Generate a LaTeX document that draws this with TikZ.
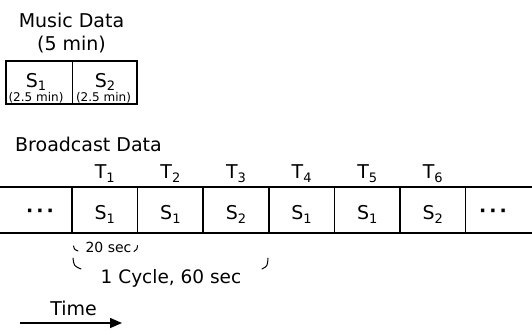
\documentclass[tikz,border=0pt]{standalone}
\usepackage{fontspec}
\setmainfont{DejaVu Sans}
\usetikzlibrary{arrows.meta}
\newcommand{\mysub}[2][4pt]{\raisebox{-#1}{\fontsize{13}{13}\selectfont #2}}
\begin{document}
\begin{tikzpicture}[x=1pt,y=-1pt,
  big/.style={font=\fontsize{19}{22}\selectfont, inner sep=0pt},
  mid/.style={font=\fontsize{18.5}{22}\selectfont, inner sep=0pt},
  small/.style={font=\fontsize{12}{14}\selectfont, inner sep=0pt},
  twsec/.style={font=\fontsize{14}{16}\selectfont, inner sep=0pt},
  rule/.style={line width=1.6pt},
  cellbox/.style={rule, draw, inner sep=0pt, anchor=north west, minimum height=43pt},
  tick/.style={line width=1pt, line cap=round},
]
\useasboundingbox (0,0) rectangle (532,333);

% Music data
\node[big, anchor=base] (title) at (71.5,27) {Music Data};
\node[big, anchor=base] (dur) at (71.5,50) {(5 min)};
\node[cellbox, minimum width=66.5pt] (m1) at (5,60) {};
\node[cellbox, minimum width=64.5pt] (m2) at (71.5,60) {};
\node[big, anchor=base] (ms1) at (36,87) {S\mysub[3pt]{1}};
\node[big, anchor=base] (ms2) at (105,87) {S\mysub[3pt]{2}};
\node[small, anchor=base] (ml1) at (36,101) {(2.5 min)};
\node[small, anchor=base] (ml2) at (103.5,101) {(2.5 min)};

% Broadcast data
\node[big, anchor=base west] (bt) at (15,151) {Broadcast Data};
\coordinate (tl) at (0,187);
\coordinate (tr) at (532,187);
\coordinate (bl) at (0,233);
\coordinate (br) at (532,233);
\draw[rule] (tl) -- (tr);
\draw[rule] (bl) -- (br);
\foreach \k in {0,...,6} {
  \coordinate (vt\k) at ({72+65.6*\k},187);
  \coordinate (vb\k) at ({72+65.6*\k},233);
  \draw[rule] (vt\k) -- (vb\k);
}
\foreach \s [count=\i] in {1,1,2,1,1,2} {
  \node[big, anchor=base] (s\i) at ({72+65.6*(\i-0.5)},219) {S\mysub{\s}};
  \node[big, anchor=base] (t\i) at ({72+65.6*(\i-0.5)},178) {T\mysub{\i}};
}
\node[big, anchor=base] (d0) at (40,217) {\bfseries ·\kern3pt·\kern3pt·};
\node[big, anchor=base] (d7) at (493,217) {\bfseries ·\kern3pt·\kern3pt·};

% cycle labels
\node[twsec, anchor=base] (twenty) at (108.5,252) {20 sec};
\draw[tick] (73.5,246) .. controls (74.5,249.5) .. (78,251);
\draw[tick] (137.5,245.5) .. controls (137,249.5) .. (134,251.5);
\node[mid, anchor=base] (cycle) at (171,283) {1 Cycle, 60 sec};
\draw[tick] (73,258) .. controls (74,266) .. (81,269);
\draw[tick] (268,258) .. controls (267.5,266) .. (262,269);

% time arrow
\node[big, anchor=base] (time) at (73.5,315) {Time};
\coordinate (a0) at (20,323);
\coordinate (a1) at (122,323);
\draw[rule, -{Triangle[length=12pt,width=10pt]}] (a0) -- (a1);
\end{tikzpicture}
\end{document}
